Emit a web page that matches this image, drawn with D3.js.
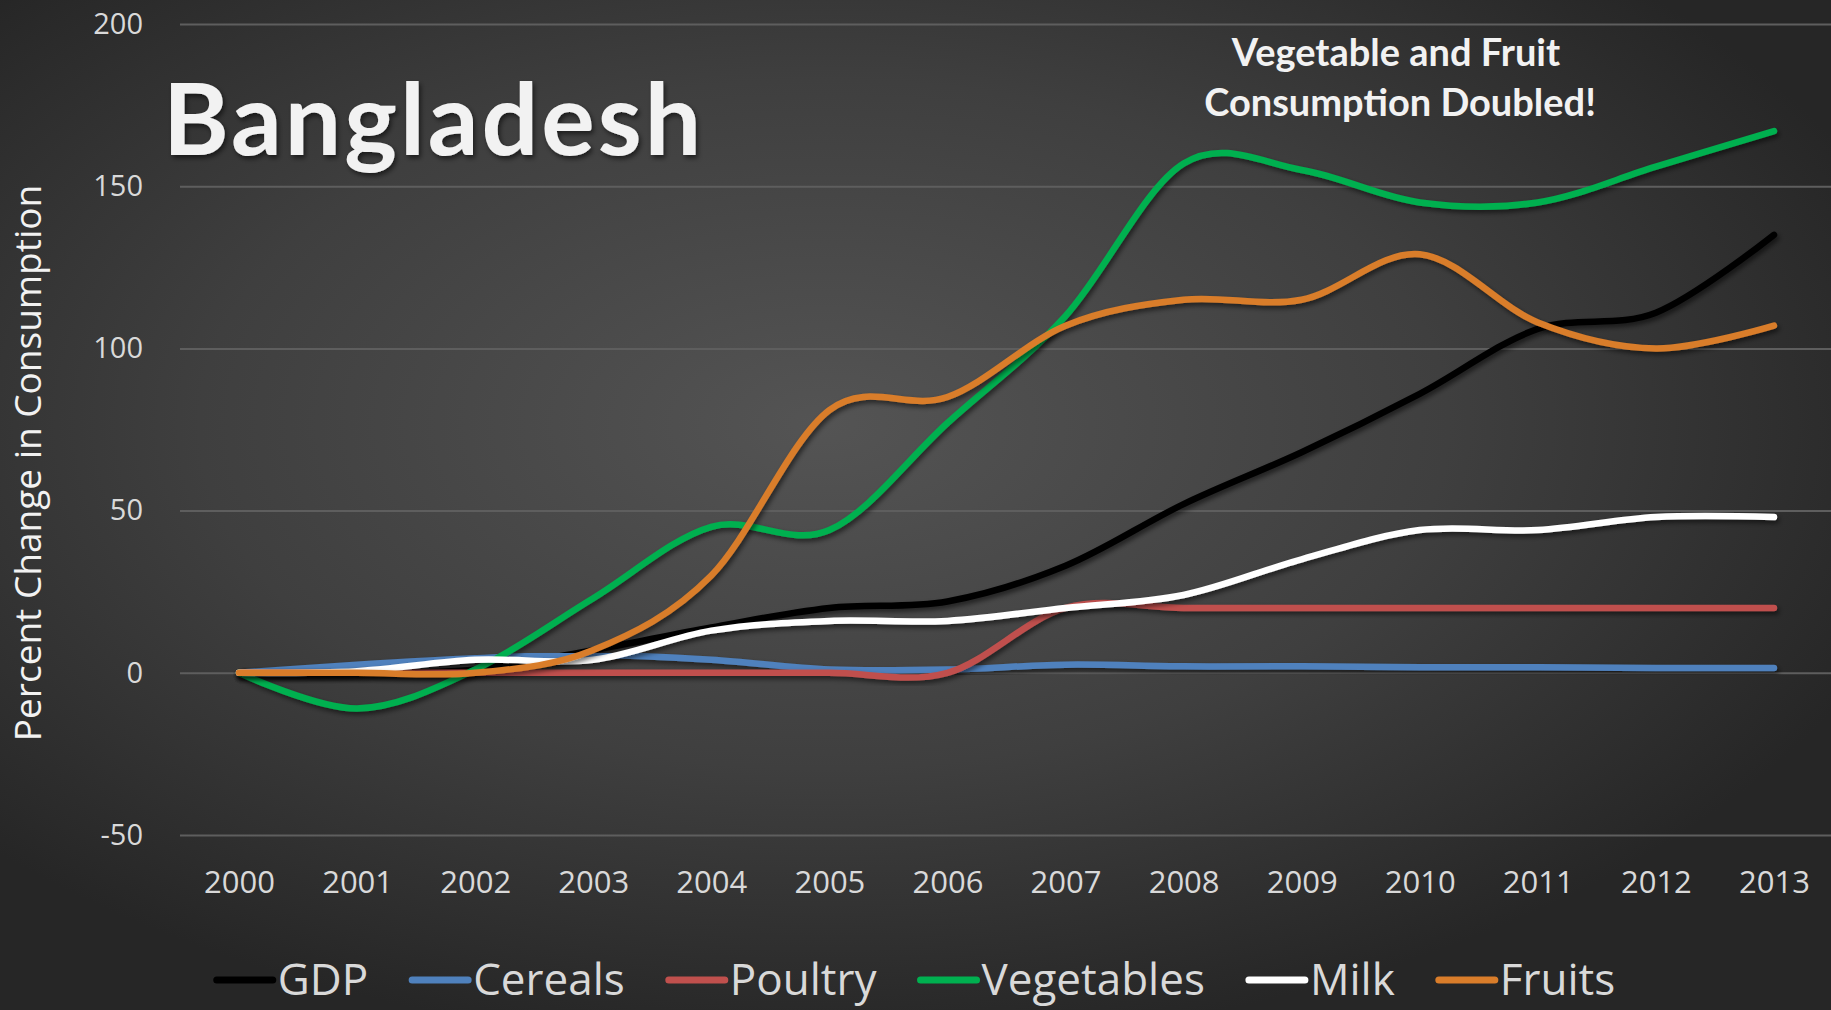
<!DOCTYPE html>
<html>
<head>
<meta charset="utf-8">
<script src="https://cdn.jsdelivr.net/npm/d3@7"></script>
<style>
  html, body { margin: 0; padding: 0; background: #2a2a2a; overflow: hidden; }
  svg { display: block; }
</style>
</head>
<body>
<div id="chart"></div>
<script>
const years = ['2000', '2001', '2002', '2003', '2004', '2005', '2006', '2007', '2008', '2009', '2010', '2011', '2012', '2013']
const yTicks = [-50, 0, 50, 100, 150, 200]

const gdp = [0, 0, 1, 7, 14, 20, 22, 33, 52, 68, 86, 106, 111, 135]
const cereals = [0, 2.5, 4.5, 5.5, 4, 1, 1, 2.5, 2, 2, 1.7, 1.7, 1.5, 1.5]
const poultry = [0, 0, 0, 0, 0, 0, 0, 20, 20, 20, 20, 20, 20, 20]
const vegetables = [0, -11, 1, 23, 45, 44, 77, 110, 157, 155, 145, 145, 156, 167]
const milk = [0, 0.5, 4, 4, 13, 16, 16, 20, 24, 35, 44, 44, 48, 48]
const fruits = [0, 0, 0, 7, 30, 81, 85, 107, 115, 115, 129, 108, 100, 107]

const seriesNames = ['GDP', 'Cereals', 'Poultry', 'Vegetables', 'Milk', 'Fruits']
const seriesValues = [gdp, cereals, poultry, vegetables, milk, fruits]
const colors = ['#000000', '#4f81bd', '#c0504d', '#00b050', '#ffffff', '#d97d2a']

const width = 1831
const height = 1010
const plot = { left: 180, right: 1833, top: 24, bottom: 835 }

const svg = d3.select('#chart')
  .append('svg')
  .attr('width', width)
  .attr('height', height)

const defs = svg.append('defs')
const bg = defs.append('radialGradient')
  .attr('id', 'bg')
  .attr('cx', '45%')
  .attr('cy', '42%')
  .attr('r', '62%')
bg.append('stop').attr('offset', '0%').attr('stop-color', '#545454')
bg.append('stop').attr('offset', '55%').attr('stop-color', '#3f3f3f')
bg.append('stop').attr('offset', '100%').attr('stop-color', '#262626')

const shadow = defs.append('filter')
  .attr('id', 'shadow')
  .attr('x', '-10%').attr('y', '-10%')
  .attr('width', '120%').attr('height', '120%')
shadow.append('feDropShadow')
  .attr('dx', 2).attr('dy', 3)
  .attr('stdDeviation', 2.5)
  .attr('flood-color', '#000')
  .attr('flood-opacity', 0.55)

svg.append('rect')
  .attr('width', width)
  .attr('height', height)
  .attr('fill', 'url(#bg)')

const x = d3.scalePoint()
  .domain(years)
  .range([plot.left, plot.right])
  .padding(0.5)

const y = d3.scaleLinear()
  .domain([-50, 200])
  .range([plot.bottom, plot.top])

// gridlines + y labels
const yAxis = d3.axisLeft(y)
  .tickValues(yTicks)
  .tickSize(-(plot.right - plot.left))
  .tickPadding(37)
  .tickFormat(d => String(d))

svg.append('g')
  .attr('class', 'y-axis')
  .attr('transform', `translate(${plot.left},0)`)
  .call(yAxis)
  .call(g => g.select('.domain').remove())
  .call(g => g.selectAll('line').attr('stroke', '#5e5e5e').attr('stroke-width', 2))
  .call(g => g.selectAll('text')
    .attr('fill', '#d9d9d9')
    .style('font-family', 'Open Sans')
    .style('font-size', '29px'))

const xAxis = d3.axisBottom(x).tickSize(0).tickPadding(0)

svg.append('g')
  .attr('class', 'x-axis')
  .attr('transform', `translate(0,${plot.bottom + 47})`)
  .call(xAxis)
  .call(g => g.select('.domain').remove())
  .call(g => g.selectAll('text')
    .attr('dy', '0.35em')
    .attr('fill', '#d9d9d9')
    .style('font-family', 'Open Sans')
    .style('font-size', '31px'))

// y title
svg.append('text')
  .attr('transform', `translate(41,463) rotate(-90)`)
  .attr('text-anchor', 'middle')
  .attr('fill', '#f2f2f2')
  .style('font-family', 'Open Sans')
  .style('font-size', '37px')
  .text('Percent Change in Consumption')

// lines
const line = d3.line()
  .x((d, i) => x(years[i]))
  .y(d => y(d))
  .curve(d3.curveCardinal.tension(0))

svg.append('g')
  .attr('class', 'lines')
  .selectAll('path')
  .data(seriesValues)
  .enter()
  .append('path')
  .attr('d', d => line(d))
  .attr('fill', 'none')
  .attr('stroke', (d, i) => colors[i])
  .attr('stroke-width', 6.5)
  .attr('stroke-linecap', 'round')
  .attr('filter', 'url(#shadow)')

// titles
svg.append('text')
  .attr('x', 163)
  .attr('y', 155)
  .attr('fill', '#f2f2f2')
  .attr('filter', 'url(#shadow)')
  .style('font-family', 'Lato')
  .style('font-weight', 'bold')
  .style('font-size', '100px')
  .style('letter-spacing', '3px')
  .text('Bangladesh')

const note = svg.append('text')
  .attr('text-anchor', 'middle')
  .attr('fill', '#f2f2f2')
  .style('font-family', 'Lato')
  .style('font-weight', 'bold')
  .style('font-size', '38px')
note.append('tspan').attr('x', 1396).attr('y', 66).text('Vegetable and Fruit')
note.append('tspan').attr('x', 1400).attr('y', 116).text('Consumption Doubled!')

// legend
const legend = svg.append('g').attr('class', 'legend')
const legendY = 980
const swatch = 56
const gap = 44
let lx = 0
seriesNames.forEach((name, i) => {
  const item = legend.append('g')
  item.append('line')
    .attr('x1', 0).attr('x2', swatch)
    .attr('y1', 0).attr('y2', 0)
    .attr('stroke', colors[i])
    .attr('stroke-width', 7)
    .attr('stroke-linecap', 'round')
  const t = item.append('text')
    .attr('x', swatch + 5)
    .attr('dy', '0.35em')
    .attr('fill', '#d9d9d9')
    .style('font-family', 'Open Sans')
    .style('font-size', '44px')
    .text(name)
  const w = swatch + 5 + t.node().getComputedTextLength()
  item.attr('transform', `translate(${lx},${legendY})`)
  lx += w + gap
})
const legendWidth = lx - gap
legend.attr('transform', `translate(${916 - legendWidth / 2},0)`)
</script>
</body>
</html>
